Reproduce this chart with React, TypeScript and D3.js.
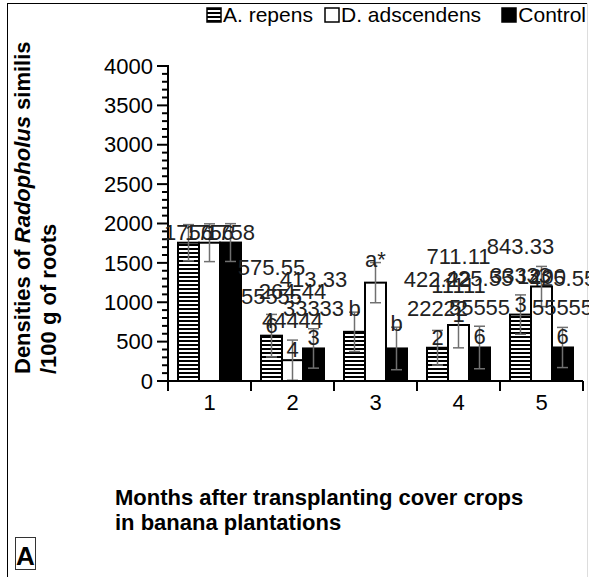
import React from "react";
import * as d3 from "d3";

const months = ["1", "2", "3", "4", "5"];
const seriesNames = ["A. repens", "D. adscendens", "Control"];
const yTicks = [0, 500, 1000, 1500, 2000, 2500, 3000, 3500, 4000];

const repensValues = [1756, 575.56, 624.44, 422.22, 843.33];
const adscendensValues = [1756, 264.44, 1248.89, 711.11, 1200];
const controlValues = [1758, 413.33, 413.33, 425.56, 425.56];

const repensErrors = [230, 270, 250, 220, 250];
const adscendensErrors = [240, 255, 255, 290, 255];
const controlErrors = [240, 250, 270, 270, 255];

const repensLabels = [["1756"], ["575.55", "55555", "6"], ["b"], ["422.22", "22222", "2"], ["843.33", "33333", "3"]];
const adscendensLabels = [["1756"], ["264.44", "44444", "4"], ["a*"], ["711.11", "11111", "1"], ["1200"]];
const controlLabels = [["1758"], ["413.33", "33333", "3"], ["b"], ["425.55", "55555", "6"], ["425.55", "55555", "6"]];

const W = 589;
const H = 577;
const FONT = "Arial, 'Liberation Sans', Helvetica, sans-serif";

export default function App() {
  const x = d3.scaleBand<string>().domain(months).range([168, 583]).padding(0);
  const inner = d3.scaleBand<string>().domain(seriesNames).range([10, x.bandwidth() - 10]).padding(0);
  const y = d3.scaleLinear().domain([0, 4000]).range([381, 66]);
  const minorTicks = d3.range(0, 4001, 100).filter((v) => v % 500 !== 0);

  const series = [
    { name: seriesNames[0], values: repensValues, errors: repensErrors, labels: repensLabels, fill: "url(#stripes)" },
    { name: seriesNames[1], values: adscendensValues, errors: adscendensErrors, labels: adscendensLabels, fill: "#ffffff" },
    { name: seriesNames[2], values: controlValues, errors: controlErrors, labels: controlLabels, fill: "#000000" },
  ];

  const lineH = 29;
  const bw = inner.bandwidth();

  return (
    <svg width={W} height={H} style={{ display: "block", position: "absolute", left: 0, top: 0, background: "#fff" }}>
      <defs>
        <pattern id="stripes" patternUnits="userSpaceOnUse" width="4" height="4">
          <rect x="0" y="0" width="4" height="4" fill="#fff" />
          <rect x="0" y="0" width="4" height="2" fill="#000" />
        </pattern>
      </defs>
      <rect x={0} y={0} width={W} height={H} fill="#fff" />
      {/* frame */}
      <line x1={7.5} y1={3} x2={7.5} y2={H} stroke="#000" strokeWidth={1} />
      <line x1={7} y1={3.5} x2={588} y2={3.5} stroke="#000" strokeWidth={1} />
      <line x1={587.5} y1={3} x2={587.5} y2={H} stroke="#ddd" strokeWidth={1} />

      {/* legend */}
      <g fontFamily={FONT} fontSize={21}>
        <rect x={207} y={8} width={14} height={14} fill="url(#stripes)" stroke="#000" strokeWidth={1.5} />
        <text x={223} y={22}>{seriesNames[0]}</text>
        <rect x={325} y={8} width={14} height={14} fill="#fff" stroke="#000" strokeWidth={1.5} />
        <text x={341} y={22}>{seriesNames[1]}</text>
        <rect x={502} y={8} width={14} height={14} fill="#000" stroke="#000" strokeWidth={1.5} />
        <text x={586} y={22} textAnchor="end">{seriesNames[2]}</text>
      </g>

      {/* y axis label */}
      <g fontFamily={FONT} fontWeight="bold" fontSize={22}>
        <text transform="translate(30,374) rotate(-90)">
          Densities of <tspan fontStyle="italic">Radopholus</tspan> similis
        </text>
        <text transform="translate(56,374) rotate(-90)">/100 g of roots</text>
      </g>

      {/* bars */}
      {series.map((s) =>
        months.map((m, i) => (
          <rect
            key={s.name + m}
            x={(x(m) as number) + (inner(s.name) as number)}
            y={y(s.values[i])}
            width={bw}
            height={y(0) - y(s.values[i])}
            fill={s.fill}
            stroke="#000"
            strokeWidth={2}
          />
        ))
      )}

      {/* error bars */}
      {series.map((s) =>
        months.map((m, i) => {
          const cx = (x(m) as number) + (inner(s.name) as number) + bw / 2;
          const top = y(s.values[i] + s.errors[i]);
          const bot = Math.min(y(0), y(s.values[i] - s.errors[i]));
          return (
            <g key={"e" + s.name + m} stroke="#707070" strokeWidth={1.5}>
              <line x1={cx} x2={cx} y1={top} y2={bot} />
              <line x1={cx - 5.5} x2={cx + 5.5} y1={top} y2={top} />
              <line x1={cx - 5.5} x2={cx + 5.5} y1={bot} y2={bot} />
            </g>
          );
        })
      )}

      {/* axes */}
      <g stroke="#000" strokeWidth={2}>
        <line x1={168} x2={168} y1={y(4000) - 1} y2={y(0) + 1} />
        <line x1={167} x2={583} y1={y(0)} y2={y(0)} />
        {yTicks.map((t) => (
          <line key={"yt" + t} x1={157} x2={168} y1={y(t)} y2={y(t)} />
        ))}
        {minorTicks.map((t) => (
          <line key={"ym" + t} x1={162} x2={168} y1={y(t)} y2={y(t)} />
        ))}
        {months.map((m) => (
          <line key={"xt" + m} x1={x(m) as number} x2={x(m) as number} y1={y(0)} y2={y(0) + 10} />
        ))}
        <line x1={583} x2={583} y1={y(0)} y2={y(0) + 10} />
      </g>
      <g fontFamily={FONT} fontSize={22} fill="#000">
        {yTicks.map((t) => (
          <text key={"yl" + t} x={153} y={y(t)} dy="0.35em" textAnchor="end">
            {t}
          </text>
        ))}
        {months.map((m) => (
          <text key={"xl" + m} x={(x(m) as number) + x.bandwidth() / 2} y={410} textAnchor="middle">
            {m}
          </text>
        ))}
      </g>

      {/* value labels */}
      <g fontFamily={FONT} fontSize={22} fill="#222">
        {series.map((s) =>
          months.map((m, i) => {
            const cx = (x(m) as number) + (inner(s.name) as number) + bw / 2;
            const lines = s.labels[i];
            const isLetter = /[a-z]/.test(lines[0]);
            const base = isLetter ? y(s.values[i] + s.errors[i]) + 4 : y(s.values[i]) - 3;
            return lines.map((ln, k) => (
              <text key={"l" + s.name + m + k} x={cx} y={base - (lines.length - 1 - k) * lineH} textAnchor="middle">
                {ln}
              </text>
            ));
          })
        )}
      </g>

      {/* x title */}
      <g fontFamily={FONT} fontWeight="bold" fontSize={22}>
        <text x={115} y={505}>Months after transplanting cover crops</text>
        <text x={115} y={530}>in banana plantations</text>
      </g>

      {/* panel letter */}
      <rect x={15.5} y={537.5} width={20} height={32} fill="#fff" stroke="#333" strokeWidth={1} />
      <text x={25.5} y={565} textAnchor="middle" fontFamily={FONT} fontWeight="bold" fontSize={26}>
        A
      </text>
    </svg>
  );
}
